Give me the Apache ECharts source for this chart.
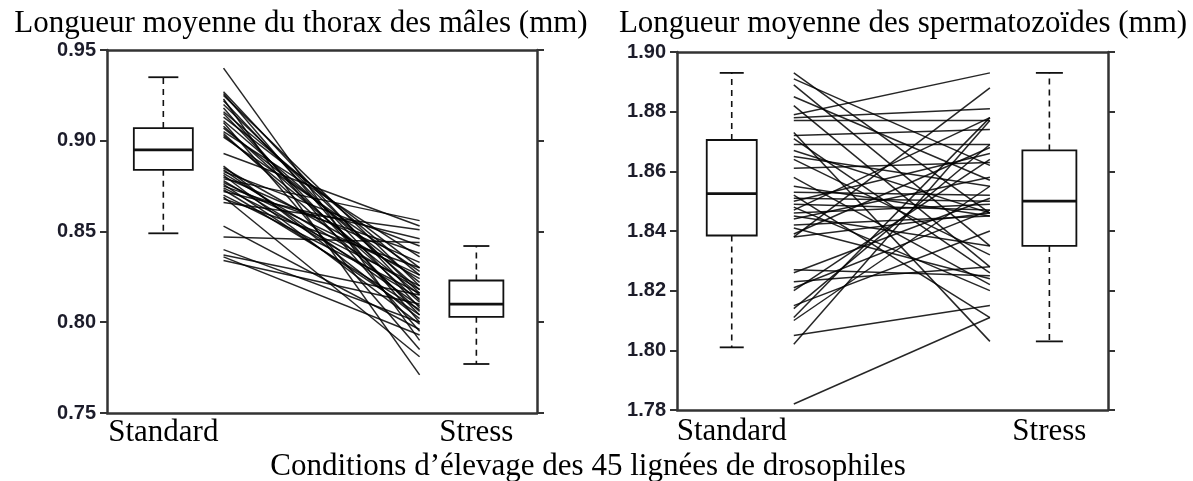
<!DOCTYPE html>
<html>
<head>
<meta charset="utf-8">
<script src="https://cdn.jsdelivr.net/npm/echarts@6/dist/echarts.min.js"></script>
<style>
html, body { margin: 0; padding: 0; background: #fff; }
#chart { width: 1193px; height: 481px; }
</style>
</head>
<body>
<div id="chart"></div>
<script>
var groupNames = ['Standard', 'Stress']

// boîtes : [min, Q1, médiane, Q3, max]
var thoraxBoxStandard = [0.849, 0.884, 0.895, 0.907, 0.935]
var thoraxBoxStress = [0.777, 0.803, 0.810, 0.823, 0.842]
var spermBoxStandard = [1.801, 1.8385, 1.8525, 1.8705, 1.893]
var spermBoxStress = [1.803, 1.835, 1.850, 1.867, 1.893]

// moyennes par lignée (45 lignées)
var thoraxStandard = [0.940, 0.927, 0.926, 0.925, 0.923, 0.922, 0.920, 0.918, 0.916, 0.915,
  0.913, 0.911, 0.910, 0.908, 0.907, 0.905, 0.904, 0.903, 0.902, 0.893,
  0.886, 0.885, 0.884, 0.883, 0.882, 0.881, 0.880, 0.879, 0.878, 0.877,
  0.876, 0.875, 0.874, 0.873, 0.872, 0.870, 0.869, 0.868, 0.866, 0.853,
  0.847, 0.840, 0.837, 0.836, 0.834]
var thoraxStress = [0.790, 0.812, 0.800, 0.820, 0.771, 0.808, 0.816, 0.795, 0.826, 0.804,
  0.830, 0.818, 0.785, 0.811, 0.822, 0.836, 0.806, 0.815, 0.828, 0.853,
  0.802, 0.824, 0.809, 0.842, 0.818, 0.799, 0.833, 0.856, 0.813, 0.826,
  0.804, 0.838, 0.820, 0.807, 0.846, 0.816, 0.781, 0.830, 0.851, 0.796,
  0.844, 0.800, 0.815, 0.793, 0.810]

var spermStandard = [1.893, 1.891, 1.889, 1.885, 1.882, 1.879, 1.878, 1.877, 1.873, 1.872,
  1.871, 1.869, 1.867, 1.865, 1.864, 1.861, 1.858, 1.855, 1.853, 1.852,
  1.851, 1.850, 1.849, 1.848, 1.847, 1.846, 1.845, 1.844, 1.842, 1.841,
  1.839, 1.838, 1.838, 1.827, 1.826, 1.823, 1.821, 1.820, 1.815, 1.814,
  1.811, 1.810, 1.805, 1.802, 1.782]
var spermStress = [1.846, 1.862, 1.835, 1.857, 1.828, 1.893, 1.881, 1.877, 1.803, 1.874,
  1.826, 1.869, 1.846, 1.855, 1.832, 1.863, 1.822, 1.845, 1.852, 1.811,
  1.850, 1.866, 1.847, 1.820, 1.878, 1.849, 1.835, 1.858, 1.845, 1.824,
  1.868, 1.888, 1.846, 1.825, 1.851, 1.828, 1.847, 1.864, 1.840, 1.869,
  1.878, 1.855, 1.815, 1.877, 1.811]

var thoraxTicks = [0.75, 0.80, 0.85, 0.90, 0.95]
var spermTicks = [1.78, 1.80, 1.82, 1.84, 1.86, 1.88, 1.90]

var chart = echarts.init(document.getElementById('chart'))

var SERIF = 'Liberation Serif, Times New Roman, serif'
var FRAME = '#333'

// positions horizontales (axe 0..1) et tailles des boîtes, par panneau
var panels = [
  { grid: { left: 107, right: 656, top: 50, bottom: 68 }, ticks: thoraxTicks,
    xStd: 0.131, xLineA: 0.271, xLineB: 0.727, xStr: 0.859, labelMargin: 4,
    boxW: [59, 54], capW: [30, 26] },
  { grid: { left: 677, right: 85, top: 52, bottom: 71 }, ticks: spermTicks,
    xStd: 0.127, xLineA: 0.271, xLineB: 0.726, xStr: 0.864, labelMargin: 6,
    boxW: [50, 54], capW: [24, 27] }
]

function boxSeries(idx, x, stats, boxW, capW) {
  return {
    type: 'custom',
    xAxisIndex: idx * 2,
    yAxisIndex: idx * 2,
    silent: true,
    z: 5,
    data: [[x].concat(stats)],
    renderItem: function(params, api) {
      var xv = api.value(0)
      var pMin = api.coord([xv, api.value(1)])
      var pQ1 = api.coord([xv, api.value(2)])
      var pMed = api.coord([xv, api.value(3)])
      var pQ3 = api.coord([xv, api.value(4)])
      var pMax = api.coord([xv, api.value(5)])
      var cx = pMin[0]
      var st = { stroke: '#111', lineWidth: 1.8, fill: null }
      var dash = { stroke: '#111', lineWidth: 1.6, lineDash: [6, 5] }
      return {
        type: 'group',
        children: [
          { type: 'rect', shape: { x: cx - boxW / 2, y: pQ3[1], width: boxW, height: pQ1[1] - pQ3[1] }, style: { stroke: '#111', lineWidth: 1.8, fill: '#fff' } },
          { type: 'line', shape: { x1: cx - boxW / 2, y1: pMed[1], x2: cx + boxW / 2, y2: pMed[1] }, style: { stroke: '#111', lineWidth: 2.8 } },
          { type: 'line', shape: { x1: cx, y1: pQ3[1], x2: cx, y2: pMax[1] }, style: dash },
          { type: 'line', shape: { x1: cx, y1: pQ1[1], x2: cx, y2: pMin[1] }, style: dash },
          { type: 'line', shape: { x1: cx - capW / 2, y1: pMax[1], x2: cx + capW / 2, y2: pMax[1] }, style: st },
          { type: 'line', shape: { x1: cx - capW / 2, y1: pMin[1], x2: cx + capW / 2, y2: pMin[1] }, style: st }
        ]
      }
    }
  }
}

function pairSeries(idx, xa, xb, a, b) {
  var data = []
  for (var i = 0; i < a.length; i++) {
    data.push([a[i], b[i]])
  }
  return {
    type: 'custom',
    xAxisIndex: idx * 2,
    yAxisIndex: idx * 2,
    silent: true,
    z: 3,
    data: data,
    renderItem: function(params, api) {
      var p1 = api.coord([xa, api.value(0)])
      var p2 = api.coord([xb, api.value(1)])
      return {
        type: 'line',
        shape: { x1: p1[0], y1: p1[1], x2: p2[0], y2: p2[1] },
        style: { stroke: 'rgba(0,0,0,0.85)', lineWidth: 1.5 }
      }
    }
  }
}

var grids = []
var xAxes = []
var yAxes = []
var series = []

panels.forEach(function(p, idx) {
  var ticks = p.ticks
  var step = Math.round((ticks[1] - ticks[0]) * 1000) / 1000
  grids.push(p.grid)
  xAxes.push({
    gridIndex: idx, type: 'value', min: 0, max: 1, position: 'bottom',
    axisLine: { onZero: false, lineStyle: { color: FRAME, width: 2.5 } },
    axisTick: { show: false },
    splitLine: { show: false },
    axisLabel: {
      customValues: [p.xStd, p.xStr],
      formatter: function(v) { return Math.abs(v - p.xStd) < 1e-6 ? groupNames[0] : groupNames[1] },
      color: '#000', fontFamily: SERIF, fontSize: 31, margin: p.labelMargin
    }
  })
  xAxes.push({
    gridIndex: idx, type: 'value', min: 0, max: 1, position: 'top',
    axisLine: { onZero: false, lineStyle: { color: FRAME, width: 2.5 } },
    axisTick: { show: false }, axisLabel: { show: false }, splitLine: { show: false }
  })
  yAxes.push({
    gridIndex: idx, type: 'value', min: ticks[0], max: ticks[ticks.length - 1], interval: step,
    position: 'left',
    axisLine: { show: true, onZero: false, lineStyle: { color: FRAME, width: 2.5 } },
    axisTick: { show: true, length: 7, lineStyle: { color: FRAME, width: 2 } },
    splitLine: { show: false },
    axisLabel: {
      formatter: function(v) { return v.toFixed(2) },
      color: '#1c1c2a', fontFamily: 'Liberation Sans, Arial, sans-serif', fontWeight: 'bold', fontSize: 20, margin: 11
    }
  })
  yAxes.push({
    gridIndex: idx, type: 'value', min: ticks[0], max: ticks[ticks.length - 1], interval: step,
    position: 'right',
    axisLine: { show: true, onZero: false, lineStyle: { color: FRAME, width: 2.5 } },
    axisTick: { show: true, length: 7, lineStyle: { color: FRAME, width: 2 } },
    splitLine: { show: false },
    axisLabel: { show: false }
  })
})

series.push(boxSeries(0, panels[0].xStd, thoraxBoxStandard, panels[0].boxW[0], panels[0].capW[0]))
series.push(boxSeries(0, panels[0].xStr, thoraxBoxStress, panels[0].boxW[1], panels[0].capW[1]))
series.push(pairSeries(0, panels[0].xLineA, panels[0].xLineB, thoraxStandard, thoraxStress))
series.push(boxSeries(1, panels[1].xStd, spermBoxStandard, panels[1].boxW[0], panels[1].capW[0]))
series.push(boxSeries(1, panels[1].xStr, spermBoxStress, panels[1].boxW[1], panels[1].capW[1]))
series.push(pairSeries(1, panels[1].xLineA, panels[1].xLineB, spermStandard, spermStress))

chart.setOption({
  animation: false,
  backgroundColor: '#fff',
  title: [
    { text: 'Longueur moyenne du thorax des mâles (mm)', left: 296, top: 3, textAlign: 'center',
      textStyle: { fontFamily: SERIF, fontSize: 31, fontWeight: 'normal', color: '#000' } },
    { text: 'Longueur moyenne des spermatozoïdes (mm)', left: 898, top: 3, textAlign: 'center',
      textStyle: { fontFamily: SERIF, fontSize: 31, fontWeight: 'normal', color: '#000' } },
    { text: 'Conditions d’élevage des 45 lignées de drosophiles', left: 583, top: 446, textAlign: 'center',
      textStyle: { fontFamily: SERIF, fontSize: 31, fontWeight: 'normal', color: '#000' } }
  ],
  grid: grids,
  xAxis: xAxes,
  yAxis: yAxes,
  series: series
})
</script>
</body>
</html>
